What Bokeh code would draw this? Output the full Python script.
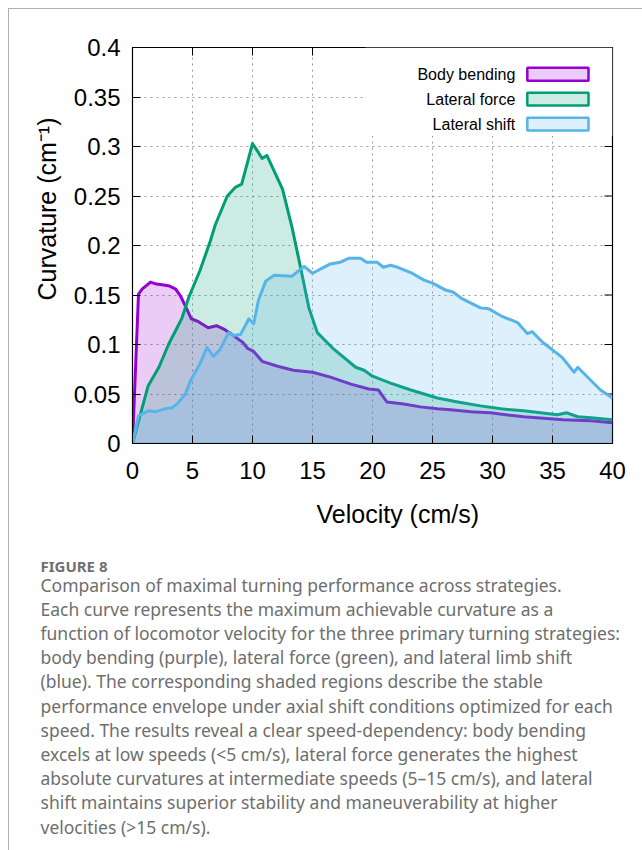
from bokeh.plotting import figure
from bokeh.models import Range1d, FixedTicker, Title
from bokeh.layouts import column
from bokeh.core.properties import value
from bokeh.embed import file_html
from bokeh.resources import INLINE

# ---------------- data ----------------
bend_v = [0, 0.5, 0.8, 1.5, 2.0, 2.6, 3.1, 3.6, 4.0, 4.4, 4.9, 5.5, 6.3, 7.0, 7.7, 8.3, 9.2, 9.6,
          10.1, 10.8, 12.1, 13.4, 15.0, 16.5, 18.2, 19.7, 20.5, 21.2, 22.6, 24.0, 25.4, 26.5, 28.2,
          29.8, 32.6, 35.9, 38.2, 40]
bend_k = [0, 0.151, 0.156, 0.163, 0.161, 0.160, 0.159, 0.156, 0.149, 0.139, 0.126, 0.123, 0.117,
          0.119, 0.115, 0.110, 0.102, 0.096, 0.093, 0.083, 0.078, 0.074, 0.072, 0.067, 0.060, 0.055,
          0.054, 0.042, 0.040, 0.037, 0.035, 0.034, 0.032, 0.031, 0.027, 0.024, 0.023, 0.021]

force_v = [0, 0.6, 1.3, 2.2, 3.0, 4.1, 4.7, 5.6, 6.5, 6.9, 7.9, 8.6, 9.1, 10.0, 10.8, 11.2, 12.5,
           13.3, 14.0, 14.7, 15.4, 16.8, 18.6, 19.3, 20.0, 21.5, 23.2, 25.4, 27.1, 29.0, 30.7, 32.6,
           35.4, 36.2, 37.1, 38.2, 40]
force_k = [0, 0.027, 0.058, 0.077, 0.100, 0.126, 0.148, 0.174, 0.205, 0.221, 0.250, 0.259, 0.262,
           0.303, 0.288, 0.291, 0.257, 0.218, 0.178, 0.137, 0.112, 0.095, 0.077, 0.074, 0.068,
           0.061, 0.054, 0.046, 0.042, 0.038, 0.035, 0.033, 0.029, 0.031, 0.027, 0.026, 0.024]

shift_v = [0, 0.5, 1.3, 1.9, 2.7, 3.3, 3.8, 4.4, 4.9, 5.6, 6.2, 6.75, 7.3, 8.0, 8.4, 9.0, 9.7, 10.1,
           10.5, 11.1, 11.8, 13.3, 14.3, 15.0, 16.4, 17.3, 18.0, 19.0, 19.5, 20.4, 20.9, 21.5, 22.1,
           23.3, 24.3, 25.0, 26.1, 26.7, 27.5, 29.0, 29.7, 30.7, 31.1, 32.1, 32.9, 33.3, 34.2, 35.8,
           36.8, 37.1, 39.0, 40]
shift_k = [0, 0.028, 0.033, 0.032, 0.035, 0.036, 0.041, 0.050, 0.065, 0.080, 0.097, 0.088, 0.095,
           0.112, 0.109, 0.110, 0.126, 0.121, 0.145, 0.164, 0.170, 0.169, 0.179, 0.172, 0.181, 0.183,
           0.187, 0.187, 0.183, 0.183, 0.178, 0.180, 0.178, 0.172, 0.165, 0.162, 0.155, 0.153, 0.146,
           0.137, 0.136, 0.129, 0.127, 0.122, 0.111, 0.113, 0.102, 0.087, 0.072, 0.077, 0.054, 0.046]

series_names = ["Body bending", "Lateral force", "Lateral shift"]
series_colors = ["#9400d3", "#009e73", "#56b4e9"]

x_ticks = [0, 5, 10, 15, 20, 25, 30, 35, 40]
y_ticks = [0, 0.05, 0.1, 0.15, 0.2, 0.25, 0.3, 0.35, 0.4]
y_tick_labels = ["0", "0.05", "0.1", "0.15", "0.2", "0.25", "0.3", "0.35", "0.4"]

x_title = "Velocity (cm/s)"
y_title = "Curvature (cm\u207b\u00b9)"

caption_head = "FIGURE 8"
caption_lines = [
    "Comparison of maximal turning performance across strategies.",
    "Each curve represents the maximum achievable curvature as a",
    "function of locomotor velocity for the three primary turning strategies:",
    "body bending (purple), lateral force (green), and lateral limb shift",
    "(blue). The corresponding shaded regions describe the stable",
    "performance envelope under axial shift conditions optimized for each",
    "speed. The results reveal a clear speed-dependency: body bending",
    "excels at low speeds (<5 cm/s), lateral force generates the highest",
    "absolute curvatures at intermediate speeds (5\u201315 cm/s), and lateral",
    "shift maintains superior stability and maneuverability at higher",
    "velocities (>15 cm/s).",
]

FONT = "Liberation Sans"
CHART_H = 548
X0, X1, Y0, Y1 = 0, 40, 0, 0.4
FRAME_W, FRAME_H = 480, 396
TICK_PX = 8

# ---------------- chart ----------------
p = figure(width=633, height=CHART_H, x_range=Range1d(X0, X1), y_range=Range1d(Y0, Y1),
           output_backend="svg", toolbar_location=None,
           min_border_left=123, min_border_right=633 - 123 - FRAME_W, min_border_top=38,
           min_border_bottom=CHART_H - 38 - FRAME_H)
p.frame_align = False
p.background_fill_color = "white"
p.border_fill_color = "white"
p.outline_line_color = "black"
p.outline_line_width = 1.2

for ax in p.axis:
    ax.minor_tick_line_color = None
    ax.major_tick_in = TICK_PX
    ax.major_tick_out = 0
    ax.major_tick_line_color = "black"
    ax.major_tick_line_width = 1
    ax.axis_line_color = "black"
    ax.major_label_text_font = FONT
    ax.major_label_text_font_size = "24px"
    ax.major_label_text_color = "black"

p.xaxis.ticker = FixedTicker(ticks=x_ticks)
p.yaxis.ticker = FixedTicker(ticks=y_ticks)
p.yaxis.major_label_overrides = {t: s for t, s in zip(y_ticks, y_tick_labels)}
p.xaxis.major_label_standoff = 18
p.yaxis.major_label_standoff = 12

# mirrored ticks on the top and right edges (gnuplot style)
dy = TICK_PX * (Y1 - Y0) / FRAME_H
dx = TICK_PX * (X1 - X0) / FRAME_W
p.segment(x0=x_ticks, y0=[Y1] * len(x_ticks), x1=x_ticks, y1=[Y1 - dy] * len(x_ticks),
          line_color="black", line_width=1)
p.segment(x0=[X1] * len(y_ticks), y0=y_ticks, x1=[X1 - dx] * len(y_ticks), y1=y_ticks,
          line_color="black", line_width=1)

# axis titles (offset like the original, which is not centred on the frame)
p.add_layout(Title(text=x_title, align="left", offset=184, standoff=32,
                   text_font=FONT, text_font_size="25px", text_font_style="normal",
                   text_color="black"), "below")
p.add_layout(Title(text=y_title, align="left", offset=143, standoff=20,
                   text_font=FONT, text_font_size="25px", text_font_style="normal",
                   text_color="black"), "left")

p.xgrid.ticker = FixedTicker(ticks=x_ticks)
p.ygrid.ticker = FixedTicker(ticks=y_ticks)
for g in (p.xgrid, p.ygrid):
    g.grid_line_color = "#9a9a9a"
    g.grid_line_dash = "2 4"
    g.grid_line_width = 1

# white legend box covering the grid
p.quad(left=[19.4], right=[X1], bottom=[0.3105], top=[Y1],
       fill_color="white", line_color=None)

for xs, ys, c in zip([bend_v, force_v, shift_v], [bend_k, force_k, shift_k], series_colors):
    p.varea(x=xs, y1=[0] * len(xs), y2=ys, fill_color=c, fill_alpha=0.2)
    p.line(x=xs, y=ys, line_color=c, line_width=3, line_join="round")

p.line(x=[shift_v[0], shift_v[-1]], y=[0, 0], line_color=series_colors[2], line_width=2)

# legend (label then swatch, gnuplot-like)
leg_y = [0.373, 0.3478, 0.3226]
p.text(x=[31.9] * 3, y=leg_y, text=series_names, text_align="right", text_baseline="middle",
       text_font=value(FONT), text_font_size="16px", text_color="black")
p.quad(left=[32.9] * 3, right=[38.0] * 3,
       bottom=[y - 0.0065 for y in leg_y], top=[y + 0.0065 for y in leg_y],
       fill_color=series_colors, fill_alpha=0.2, line_color=series_colors, line_width=2.5)

# ---------------- caption ----------------
cap_top = 9 + CHART_H
cap = figure(width=633, height=850 - cap_top, x_range=Range1d(9, 642),
             y_range=Range1d(850, cap_top),
             output_backend="svg", toolbar_location=None, min_border=0)
cap.frame_align = False
cap.axis.visible = False
cap.grid.visible = False
cap.outline_line_color = None
cap.background_fill_color = "white"
cap.border_fill_color = "white"

cap.text(x=[40], y=[565], text=[caption_head], text_baseline="middle",
         text_font=value("Noto Sans"), text_font_size="15px", text_font_style="bold",
         text_color="#707070")
cap.text(x=[40] * len(caption_lines), y=[584 + 24.2 * i for i in range(len(caption_lines))],
         text=caption_lines, text_baseline="middle",
         text_font=value("Noto Sans"), text_font_size="17.5px", text_color="#6e6e6e")

layout = column(p, cap, styles={"margin-left": "8px", "margin-top": "8px",
                                "border-top": "1px solid #b0b0b0",
                                "border-left": "1px solid #b0b0b0"})

open("out.html", "w").write(file_html(layout, INLINE))
